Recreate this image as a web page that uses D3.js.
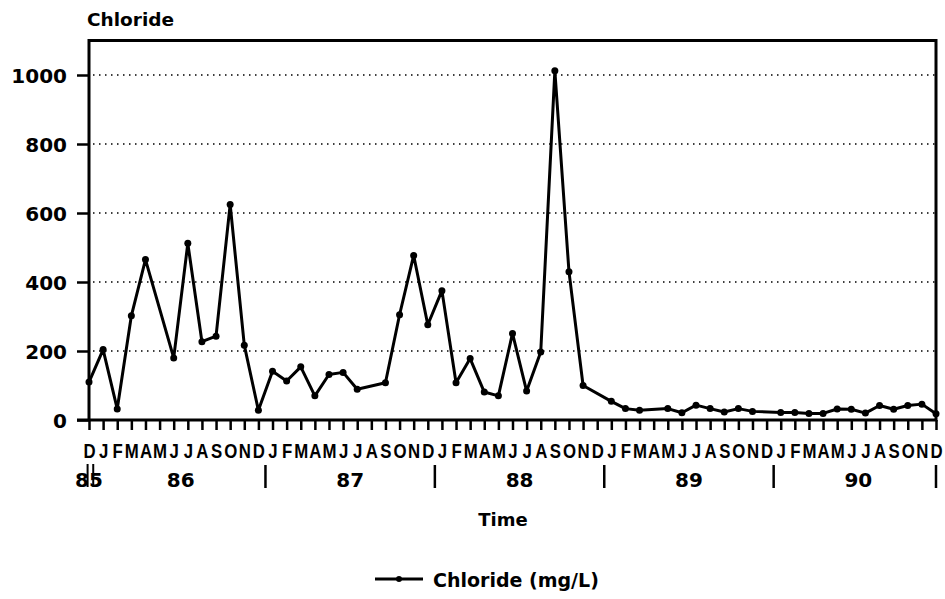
<!DOCTYPE html>
<html>
<head>
    <meta charset="UTF-8">
    <title>Chloride</title>
    <style>
        body { margin: 0; background: #fff; }
        text { font-family: "DejaVu Sans", sans-serif; font-weight: bold; fill: #000; }
        .grid line { stroke: #000; stroke-width: 1.5; stroke-dasharray: 1.5,4.5; }
        .axis path { display: none; }
        .axis line { stroke: #000; stroke-width: 2.5; }
        .month text { font-family: "Liberation Sans", Arial, sans-serif; }
    </style>
</head>
<body>
<script src="https://cdnjs.cloudflare.com/ajax/libs/d3/7.8.5/d3.min.js"></script>
<script>
    // sample months (year-month) and chloride values in mg/L
    var sampleMonths = ["1985-12", "1986-01", "1986-02", "1986-03", "1986-04", "1986-06", "1986-07",
        "1986-08", "1986-09", "1986-10", "1986-11", "1986-12", "1987-01", "1987-02", "1987-03",
        "1987-04", "1987-05", "1987-06", "1987-07", "1987-09", "1987-10", "1987-11", "1987-12",
        "1988-01", "1988-02", "1988-03", "1988-04", "1988-05", "1988-06", "1988-07", "1988-08",
        "1988-09", "1988-10", "1988-11", "1989-01", "1989-02", "1989-03", "1989-05", "1989-06",
        "1989-07", "1989-08", "1989-09", "1989-10", "1989-11", "1990-01", "1990-02", "1990-03",
        "1990-04", "1990-05", "1990-06", "1990-07", "1990-08", "1990-09", "1990-10", "1990-11",
        "1990-12"];
    var chloride = [110, 204, 32, 302, 465, 180, 512,
        227, 243, 625, 217, 28, 141, 113, 154,
        70, 132, 138, 89, 108, 305, 477, 276,
        375, 108, 178, 81, 70, 251, 84, 197,
        1012, 430, 100, 54, 33, 28, 33, 21,
        43, 33, 23, 33, 25, 22, 22, 19,
        19, 32, 31, 20, 42, 31, 42, 46,
        18];
    var monthLetters = ["J", "F", "M", "A", "M", "J", "J", "A", "S", "O", "N", "D"];
    var yearLabels = ["85", "86", "87", "88", "89", "90"];
    var yTicks = [0, 200, 400, 600, 800, 1000];

    var startYear = 1985, startMonth = 12;
    function monthIndex(s) {
        var p = s.split("-");
        return (+p[0] - startYear) * 12 + (+p[1] - startMonth);
    }
    var dataset = sampleMonths.map(function (m, i) {
        return {x: monthIndex(m), y: chloride[i]};
    });

    var plot = {left: 89, right: 936, top: 40.5, bottom: 420};

    var xScale = d3.scaleLinear().domain([0, 60]).range([plot.left, plot.right]);
    var yScale = d3.scaleLinear().domain([0, 1100]).range([plot.bottom, plot.top]);

    var svg = d3.select("body").append("svg")
        .attr("width", 945)
        .attr("height", 599);

    // dotted grid
    svg.append("g")
        .attr("class", "grid")
        .selectAll("line")
        .data(yTicks.filter(function (d) { return d > 0; }))
        .enter().append("line")
        .attr("x1", plot.left + 4)
        .attr("x2", plot.right)
        .attr("y1", function (d) { return yScale(d); })
        .attr("y2", function (d) { return yScale(d); });

    // y axis
    var yAxis = svg.append("g")
        .attr("class", "axis")
        .attr("transform", "translate(" + plot.left + ",0)")
        .call(d3.axisLeft(yScale).tickValues(yTicks).tickSize(12).tickPadding(10).tickFormat(d3.format("d")));
    yAxis.selectAll("text").style("font-size", "20px").attr("dy", "0.36em");

    // x axis: month letters (squeezed a bit, they sit tight in the original)
    var xAxis = svg.append("g")
        .attr("class", "axis month")
        .attr("transform", "translate(0," + plot.bottom + ")")
        .call(d3.axisBottom(xScale)
            .tickValues(d3.range(0, 61))
            .tickSize(10)
            .tickPadding(13)
            .tickFormat(function (d) { return monthLetters[(d + 11) % 12]; }));
    xAxis.selectAll("text")
        .style("font-size", "21px")
        .attr("transform", "scale(0.8,1)");

    // frame
    svg.append("path")
        .attr("d", "M" + plot.left + "," + plot.bottom + "V" + plot.top + "H" + plot.right + "V" + plot.bottom + "H" + (plot.left - 12))
        .attr("fill", "none")
        .attr("stroke", "#000")
        .attr("stroke-width", 3);

    // year labels and separators
    svg.selectAll(".year")
        .data(yearLabels)
        .enter().append("text")
        .attr("class", "year")
        .attr("x", function (d, i) { return i === 0 ? xScale(0) : xScale(12 * i - 5.5); })
        .attr("y", 487)
        .attr("text-anchor", "middle")
        .style("font-size", "20px")
        .text(function (d) { return d; });

    var seps = [12.5, 24.5, 36.5, 48.5, 60];
    svg.selectAll(".sep")
        .data(seps)
        .enter().append("line")
        .attr("class", "sep")
        .attr("x1", function (d) { return xScale(d); })
        .attr("x2", function (d) { return xScale(d); })
        .attr("y1", 465)
        .attr("y2", 488)
        .attr("stroke", "#000")
        .attr("stroke-width", 2.5);
    // axis break mark at the start
    svg.selectAll(".brk")
        .data([-0.1, 0.3])
        .enter().append("line")
        .attr("class", "brk")
        .attr("x1", function (d) { return xScale(d); })
        .attr("x2", function (d) { return xScale(d); })
        .attr("y1", 464)
        .attr("y2", 487)
        .attr("stroke", "#000")
        .attr("stroke-width", 2);

    // data line
    var line = d3.line()
        .x(function (d) { return xScale(d.x); })
        .y(function (d) { return yScale(d.y); });

    svg.append("path")
        .datum(dataset)
        .attr("fill", "none")
        .attr("stroke", "#000")
        .attr("stroke-width", 3)
        .attr("stroke-linejoin", "round")
        .attr("d", line);

    svg.selectAll(".dot")
        .data(dataset)
        .enter().append("circle")
        .attr("class", "dot")
        .attr("cx", function (d) { return xScale(d.x); })
        .attr("cy", function (d) { return yScale(d.y); })
        .attr("r", 3.5)
        .attr("fill", "#000");

    // titles
    svg.append("text")
        .attr("x", 87)
        .attr("y", 26)
        .style("font-size", "18.5px")
        .text("Chloride");

    svg.append("text")
        .attr("x", 503)
        .attr("y", 526)
        .attr("text-anchor", "middle")
        .style("font-size", "18px")
        .text("Time");

    // legend
    var legend = svg.append("g").attr("transform", "translate(375,579)");
    legend.append("line")
        .attr("x1", 0).attr("x2", 48)
        .attr("stroke", "#000").attr("stroke-width", 3);
    legend.append("circle")
        .attr("cx", 24).attr("r", 3).attr("fill", "#000");
    legend.append("text")
        .attr("x", 58)
        .attr("y", 8)
        .style("font-size", "19px")
        .text("Chloride (mg/L)");
</script>
</body>
</html>
